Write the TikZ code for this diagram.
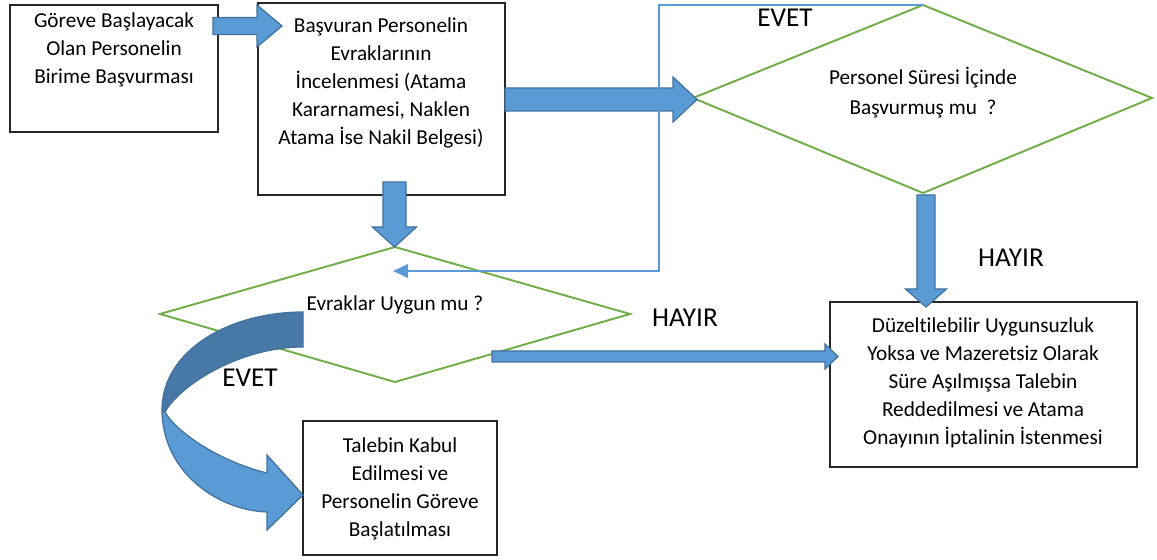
\documentclass[tikz,border=0pt]{standalone}
\usepackage{fontspec}
\setmainfont{Carlito}[Ligatures=NoCommon]
\usetikzlibrary{arrows.meta}
\definecolor{arrowfill}{HTML}{5B9BD5}
\definecolor{arrowedge}{HTML}{41719C}
\definecolor{arrowdark}{HTML}{4878A6}
\definecolor{flowgreen}{HTML}{70AD47}
\definecolor{linkblue}{HTML}{5B9BD5}

% straight block arrows: from, tip, axis, shaft half width, head half width, head length
\newcommand\blkright[6]{%
  \filldraw[blk] (#1,#3-#4) -- (#2-#6,#3-#4) -- (#2-#6,#3-#5) -- (#2,#3)
    -- (#2-#6,#3+#5) -- (#2-#6,#3+#4) -- (#1,#3+#4) -- cycle;}
\newcommand\blkdown[6]{%
  \filldraw[blk] (#3-#4,#1) -- (#3-#4,#2-#6) -- (#3-#5,#2-#6) -- (#3,#2)
    -- (#3+#5,#2-#6) -- (#3+#4,#2-#6) -- (#3+#4,#1) -- cycle;}

\begin{document}
\begin{tikzpicture}[x=0.02cm,y=-0.02cm,
  box/.style={draw=black!85, line width=0.7pt, fill=white, inner sep=0pt},
  txt/.style={align=center, font=\fontsize{12.1}{15.9}\selectfont, inner sep=0pt},
  big/.style={font=\fontsize{15.5}{18}\selectfont, inner sep=0pt},
  dia/.style={draw=flowgreen, line width=1.1pt},
  blk/.style={fill=arrowfill, draw=arrowedge, line width=0.7pt, line join=miter},
  link/.style={draw=linkblue, line width=1.1pt, -{Triangle[length=0.3cm,width=0.27cm]}}]
\useasboundingbox (0,0) rectangle (1157,560);

% process boxes
\node[box, minimum width=4.16cm, minimum height=2.54cm] (b1) at (114,68.5) {};
\node[box, minimum width=4.94cm, minimum height=3.84cm] (b2) at (381.5,99) {};
\node[box, minimum width=6.14cm, minimum height=3.3cm] (b3) at (983.5,384.5) {};
\node[box, minimum width=3.88cm, minimum height=2.68cm] (b4) at (400,488) {};

\node[txt] (t1) at (114,50) {Göreve Başlayacak\\Olan Personelin\\Birime Başvurması};
\node[txt] (t2) at (381,83) {Başvuran Personelin\\Evraklarının\\İncelenmesi (Atama\\Kararnamesi, Naklen\\Atama İse Nakil Belgesi)};
\node[txt] (t3) at (983,383) {Düzeltilebilir Uygunsuzluk\\Yoksa ve Mazeretsiz Olarak\\Süre Aşılmışsa Talebin\\Reddedilmesi ve Atama\\Onayının İptalinin İstenmesi};
\node[txt] (t4) at (400,489) {Talebin Kabul\\Edilmesi ve\\Personelin Göreve\\Başlatılması};

% decision diamonds
\coordinate (d1w) at (693,98);
\coordinate (d1n) at (923,5);
\coordinate (d1e) at (1152,98);
\coordinate (d1s) at (923,193);
\draw[dia] (d1w) -- (d1n) -- (d1e) -- (d1s) -- cycle;
\node[txt, font=\fontsize{12.1}{17}\selectfont] (q1) at (923,93) {Personel Süresi İçinde\\Başvurmuş mu\ \ ?};

\coordinate (d2n) at (395,247);
\coordinate (d2w) at (160,314);
\coordinate (d2e) at (630,314);
\coordinate (d2s) at (395,382);
\draw[dia] (d2w) -- (d2n) -- (d2e) -- (d2s) -- cycle;
\node[txt] (q2) at (395,305) {Evraklar Uygun mu ?};

% block arrows
\blkright{213}{282}{26}{8.5}{21}{25}
\blkright{505}{697}{99.5}{11.5}{22.5}{24}
\blkdown{195}{307}{926}{9}{20.5}{18}
\blkdown{182}{247}{394.5}{11.5}{22}{20}
\blkright{492}{838}{356.5}{5.5}{12.5}{13}

% return link from the upper decision
\coordinate (c1) at (659,5);
\coordinate (c2) at (659,271);
\coordinate (c3) at (393,271);
\draw[link] (d1n) -- (c1) -- (c2) -- (c3);

% curved arrow towards the acceptance box
\filldraw[fill=arrowfill, draw=arrowedge, line width=0.7pt, line join=miter]
  (162,410) .. controls (162,470) and (215,510) .. (267,512)
  -- (267,530) -- (303,495) -- (267,455) -- (267,473)
  .. controls (215,460) and (175,430) .. (165,412) -- cycle;
\filldraw[fill=arrowdark, draw=arrowedge, line width=0.7pt]
  (303,312) .. controls (230,312) and (162,350) .. (162,410)
  -- (165,412) .. controls (180,385) and (240,347) .. (303,347) -- cycle;

% branch labels
\node[big] (e1) at (785,17.5) {EVET};
\node[big] (e2) at (250,378) {EVET};
\node[big] (h1) at (1011,258) {HAYIR};
\node[big] (h2) at (685,318) {HAYIR};
\end{tikzpicture}
\end{document}
